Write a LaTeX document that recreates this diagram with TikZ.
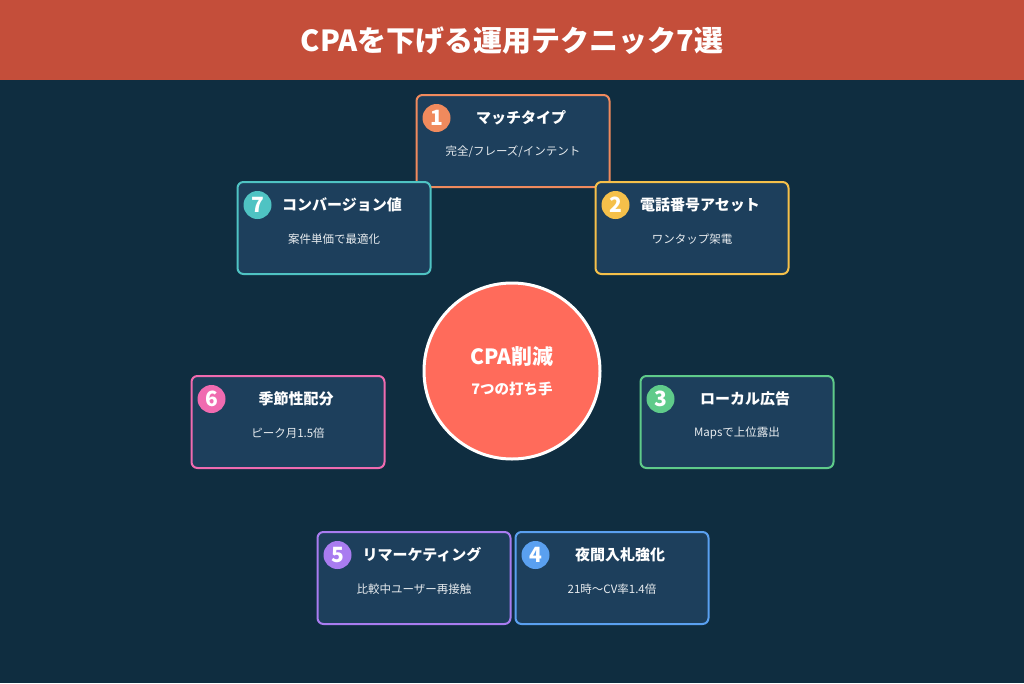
\documentclass[tikz,border=0pt]{standalone}
\usepackage{fontspec}
\setmainfont{Noto Sans CJK JP}
\begin{document}
\definecolor{bg}{HTML}{0F2D40}
\definecolor{hdr}{HTML}{C44E3A}
\definecolor{boxf}{HTML}{1D3F5C}
\definecolor{c1}{HTML}{F08A5D}
\definecolor{c2}{HTML}{F5C04A}
\definecolor{c3}{HTML}{5FCB8A}
\definecolor{c4}{HTML}{5AA0F0}
\definecolor{c5}{HTML}{A97CF0}
\definecolor{c6}{HTML}{F06BB0}
\definecolor{c7}{HTML}{4FC3C3}
\definecolor{core}{HTML}{FF6B5B}
\begin{tikzpicture}[x=1pt,y=-1pt,
  card/.style={draw=#1,line width=2pt,fill=boxf,rounded corners=6pt,minimum width=193pt,minimum height=92pt,inner sep=0pt},
  num/.style={circle,fill=#1,minimum size=28pt,inner sep=0pt,text=white,font=\fontsize{21}{21}\selectfont\bfseries},
  ttl/.style={text=white,font=\fontsize{15}{15}\selectfont\bfseries},
  sub/.style={text=white!90!boxf,font=\fontsize{11.5}{12}\selectfont}]
\fill[bg] (0,0) rectangle (1024,683);
\useasboundingbox (0,0) rectangle (1024,683);
\fill[hdr] (0,0) rectangle (1024,80);
\node[text=white,font=\fontsize{29}{29}\selectfont\bfseries] (title) at (512,41) {CPAを下げる運用テクニック7選};
\newcommand\card[7]{% name,cx,cy,color,num,title,sub
  \node[card=#4] (#1) at (#2,#3) {};
  \node[num=#4] (#1n) at ([xshift=21pt,yshift=-24pt]#1.north west) {#5};
  \node[ttl] (#1tt) at ([xshift=8pt,yshift=-24pt]#1.north) {#6};
  \node[sub] (#1s) at ([yshift=-11pt]#1.center) {#7};}
\card{a}{513}{141}{c1}{1}{マッチタイプ}{完全/フレーズ/インテント}
\card{b}{692}{228}{c2}{2}{電話番号アセット}{ワンタップ架電}
\card{c}{737}{422}{c3}{3}{ローカル広告}{Mapsで上位露出}
\card{d}{612}{578}{c4}{4}{夜間入札強化}{21時〜CV率1.4倍}
\card{e}{414}{578}{c5}{5}{リマーケティング}{比較中ユーザー再接触}
\card{f}{288}{422}{c6}{6}{季節性配分}{ピーク月1.5倍}
\card{g}{334}{228}{c7}{7}{コンバージョン値}{案件単価で最適化}
\node[circle,fill=core,draw=white,line width=3pt,minimum size=176pt] (core) at (512,371) {};
\node[text=white,font=\fontsize{21}{21}\selectfont\bfseries] (coret) at (512,356) {CPA削減};
\node[text=white,font=\fontsize{14.5}{14.5}\selectfont\bfseries] (cores) at (512,389) {7つの打ち手};
\end{tikzpicture}
\end{document}
